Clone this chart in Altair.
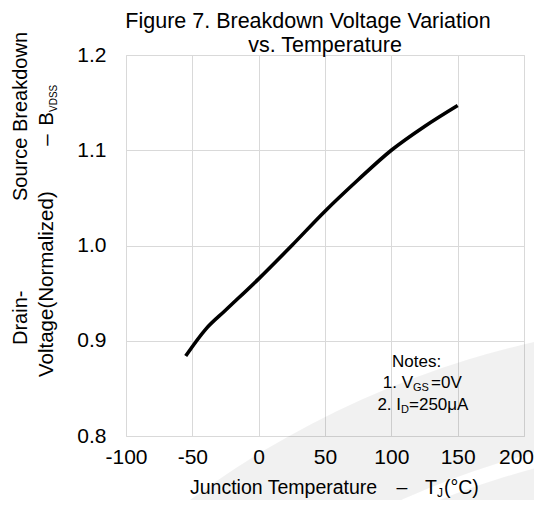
import altair as alt
import pandas as pd

# ---- data ----
temps = [-55, -40, -25, 0, 25, 50, 75, 100, 125, 150]
bvdss = [0.884, 0.912, 0.932, 0.965, 1.000, 1.036, 1.069, 1.100, 1.125, 1.147]
x_ticks = [-100, -50, 0, 50, 100, 150, 200]
y_ticks = [0.8, 0.9, 1.0, 1.1, 1.2]

FONT = "Liberation Sans"
df = pd.DataFrame({"T": temps, "BV": bvdss})

line = alt.Chart(df).mark_line(color="black", strokeWidth=3.6, interpolate="monotone").encode(
    x=alt.X("T:Q",
            scale=alt.Scale(domain=[-100, 200], nice=False, zero=False),
            axis=alt.Axis(values=x_ticks, title=None, labelExpr="'' + datum.value",
                          labelFont=FONT, labelFontSize=21, labelColor="black",
                          labelPadding=10, ticks=False, tickSize=0, domain=False,
                          grid=True, gridColor="#d9d9d9", labelFlush=False,
                          labelOffset={"condition": {"test": "datum.value == 200", "value": -8},
                                       "value": 0})),
    y=alt.Y("BV:Q",
            scale=alt.Scale(domain=[0.8, 1.2], nice=False, zero=False),
            axis=alt.Axis(values=y_ticks, title=None, format=".1f",
                          labelFont=FONT, labelFontSize=21, labelColor="black",
                          labelPadding=20, ticks=False, tickSize=0, domain=False,
                          grid=True, gridColor="#d9d9d9", labelFlush=False)),
)

one = pd.DataFrame({"a": [0]})


def txt(s, x, y, size=20, align="left", angle=0, baseline="alphabetic"):
    return alt.Chart(one).mark_text(
        text=s, font=FONT, fontSize=size, align=align, baseline=baseline,
        angle=angle, color="black").encode(x=alt.value(x), y=alt.value(y))


def swoosh(r0, r1):
    # faint background watermark band
    return alt.Chart(one).mark_arc(color="black", opacity=0.055).encode(
        x=alt.value(612), y=alt.value(1184),
        theta=alt.value(4.4), theta2=alt.value(6.35),
        radius=alt.value(r1), radius2=alt.value(r0))


layers = [
    swoosh(0, 797),
    swoosh(812, 920),
    line,
    # title
    txt("Figure 7. Breakdown Voltage Variation", 182, -27, size=21.5, align="center"),
    txt("vs. Temperature", 199, -3, size=21.5, align="center"),
    # x axis title
    txt("Junction Temperature", 64, 439, size=19.5),
    txt("\u2013", 276, 439, size=19.5, align="center"),
    txt("T", 299, 439, size=19.5),
    txt("J", 311, 442, size=12),
    txt("(\u00b0C)", 318, 439, size=19.5),
    # y axis title (rotated)
    txt("Drain-", -99, 290, size=20, angle=270),
    txt("Source Breakdown", -99, -23, size=20, angle=270, align="right"),
    txt("Voltage(Normalized)", -73, 322, size=20.5, angle=270),
    txt("\u2013", -73, 85, size=20.5, angle=270, align="center"),
    txt("B", -73, 57, size=20.5, angle=270, align="right"),
    txt("VDSS", -69, 57, size=10, angle=270),
    # notes
    txt("Notes:", 266, 312, size=17),
    txt("1. V", 287, 333, size=17, align="right"),
    txt("GS", 287, 336, size=11),
    txt("=0V", 305, 333, size=17),
    txt("2. I", 275, 355, size=17, align="right"),
    txt("D", 275, 358, size=11),
    txt("=250\u03bcA", 283, 355, size=17),
]

chart = alt.layer(*layers).properties(
    width=398, height=381,
    autosize=alt.AutoSizeParams(type="none"),
    padding={"left": 118, "top": 47, "right": 10, "bottom": 64},
).configure_view(stroke="#c4c4c4", strokeWidth=1.2).configure(background="white")

chart.save("out.html", embed_options={"renderer": "svg", "actions": False})
